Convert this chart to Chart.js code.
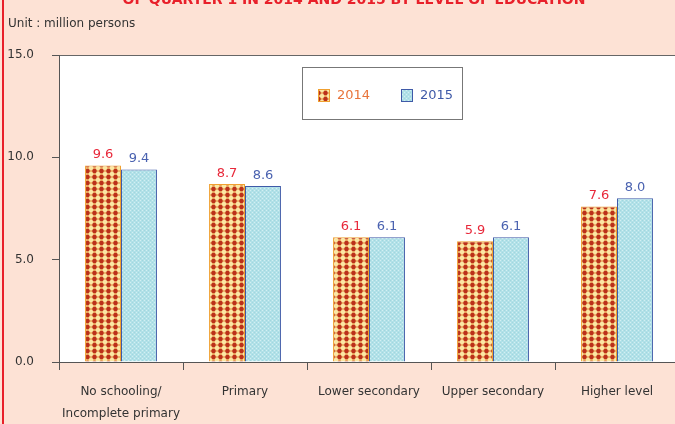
<!DOCTYPE html>
<html>
<head>
<meta charset="utf-8">
<script src="https://cdn.jsdelivr.net/npm/chart.js@4"></script>
<style>
  html, body { margin: 0; padding: 0; overflow: hidden; background: #fde2d5; }
  #wrap { position: relative; width: 680px; height: 424px; }
</style>
</head>
<body>
<div id="wrap"><canvas id="chart"></canvas></div>
<script>
const categories = [['No schooling/', 'Incomplete primary'], 'Primary', 'Lower secondary', 'Upper secondary', 'Higher level'];
const values2014 = [9.6, 8.7, 6.1, 5.9, 7.6];
const values2015 = [9.4, 8.6, 6.1, 6.1, 8.0];
const seriesNames = ['2014', '2015'];
const yMin = 0, yMax = 15, yStep = 5;

const FONT = "'DejaVu Sans', Verdana, sans-serif";

// dotted yellow/red pattern for 2014
function makeDots() {
  const c = document.createElement('canvas');
  c.width = 7; c.height = 6;
  const g = c.getContext('2d');
  g.fillStyle = '#fbe7a4';
  g.fillRect(0, 0, 7, 6);
  g.fillStyle = '#eeb46c';
  g.fillRect(0, 2, 7, 2);
  g.fillRect(2, 0, 3, 6);
  g.fillStyle = '#bb301a';
  g.beginPath();
  g.arc(3.5, 3, 2.3, 0, Math.PI * 2);
  g.fill();
  return g.createPattern(c, 'repeat');
}

// light cyan speckle for 2015
function makeSpeckle() {
  const c = document.createElement('canvas');
  c.width = 4; c.height = 4;
  const g = c.getContext('2d');
  g.fillStyle = '#b1e1e8';
  g.fillRect(0, 0, 4, 4);
  g.fillStyle = '#d3eff2';
  g.fillRect(0, 0, 1, 1);
  g.fillRect(2, 2, 1, 1);
  g.fillStyle = '#a2d6de';
  g.fillRect(2, 0, 1, 1);
  g.fillRect(0, 2, 1, 1);
  return g.createPattern(c, 'repeat');
}

const fill2014 = makeDots();
const fill2015 = makeSpeckle();
const labelColors = ['#e8283a', '#4a62b0'];
const legendColors = ['#e8743a', '#3f5aa8'];

const backdrop = {
  id: 'backdrop',
  beforeDraw(chart) {
    const ctx = chart.ctx;
    const a = chart.chartArea;
    ctx.save();
    ctx.fillStyle = '#fde2d5';
    ctx.fillRect(0, 0, chart.width, chart.height);
    // red frame line on the left
    ctx.fillStyle = '#e8202a';
    ctx.fillRect(2, 0, 2, chart.height);
    // title, clipped by the top edge
    ctx.fillStyle = '#e8202a';
    ctx.font = 'bold 14px ' + FONT;
    ctx.textAlign = 'center';
    ctx.textBaseline = 'alphabetic';
    ctx.fillText('OF QUARTER 1 IN 2014 AND 2015 BY LEVEL OF EDUCATION', 354, 4);
    ctx.fillStyle = '#333';
    ctx.font = '12px ' + FONT;
    ctx.textAlign = 'left';
    ctx.textBaseline = 'middle';
    ctx.fillText('Unit : million persons', 8, 24);
    ctx.fillStyle = '#ffffff';
    ctx.fillRect(a.left, a.top, a.right - a.left, a.bottom - a.top);
    ctx.strokeStyle = '#666';
    ctx.lineWidth = 1;
    ctx.beginPath();
    ctx.moveTo(a.left, a.top + 0.5);
    ctx.lineTo(a.right, a.top + 0.5);
    ctx.stroke();
    ctx.restore();
  }
};

const extras = {
  id: 'extras',
  afterDatasetsDraw(chart) {
    const ctx = chart.ctx;
    ctx.save();
    ctx.font = '13px ' + FONT;
    ctx.textAlign = 'center';
    ctx.textBaseline = 'bottom';
    chart.data.datasets.forEach((ds, i) => {
      const meta = chart.getDatasetMeta(i);
      ctx.fillStyle = labelColors[i];
      meta.data.forEach((bar, j) => {
        ctx.fillText(ds.data[j].toFixed(1), bar.x, bar.y - 4);
      });
    });
    // legend box
    const a = chart.chartArea;
    const lx = a.left + 243, ly = a.top + 12;
    ctx.fillStyle = '#ffffff';
    ctx.fillRect(lx, ly, 161, 53);
    ctx.strokeStyle = '#777';
    ctx.lineWidth = 1;
    ctx.strokeRect(lx + 0.5, ly + 0.5, 160, 52);
    const items = [{ x: lx + 16 }, { x: lx + 99 }];
    ctx.font = '13px ' + FONT;
    ctx.textAlign = 'left';
    ctx.textBaseline = 'middle';
    chart.data.datasets.forEach((ds, i) => {
      const x = items[i].x, y = ly + 22;
      ctx.fillStyle = ds.backgroundColor;
      ctx.fillRect(x, y, 12, 13);
      ctx.strokeStyle = ds.borderColor;
      ctx.strokeRect(x + 0.5, y + 0.5, 11, 12);
      ctx.fillStyle = legendColors[i];
      ctx.fillText(ds.label, x + 19, y + 7);
    });
    ctx.restore();
  }
};

new Chart(document.getElementById('chart'), {
  type: 'bar',
  data: {
    labels: categories,
    datasets: [
      {
        label: seriesNames[0],
        data: values2014,
        backgroundColor: fill2014,
        borderColor: '#f0a030',
        borderWidth: 1
      },
      {
        label: seriesNames[1],
        data: values2015,
        backgroundColor: fill2015,
        borderColor: '#3f5aa8',
        borderWidth: 1
      }
    ]
  },
  options: {
    responsive: true,
    maintainAspectRatio: false,
    animation: false,
    devicePixelRatio: 1,
    categoryPercentage: 0.58,
    barPercentage: 1,
    layout: { padding: { top: 55, left: 0, right: 1, bottom: 0 } },
    plugins: {
      legend: { display: false },
      tooltip: { enabled: false }
    },
    scales: {
      x: {
        grid: { display: true, drawOnChartArea: false, tickLength: 8, color: '#555' },
        border: { display: true, color: '#555' },
        ticks: {
          color: '#333',
          font: { family: FONT, size: 12, lineHeight: 1.9 },
          padding: 10,
          maxRotation: 0,
          autoSkip: false
        },
        afterFit(scale) { scale.height = 62; }
      },
      y: {
        min: yMin,
        max: yMax,
        grid: { display: true, drawOnChartArea: false, tickLength: 7, color: '#555' },
        border: { display: true, color: '#555' },
        ticks: {
          stepSize: yStep,
          color: '#333',
          font: { family: FONT, size: 12 },
          padding: 18,
          callback: v => v.toFixed(1)
        },
        afterFit(scale) { scale.width = 59; }
      }
    }
  },
  plugins: [backdrop, extras]
});
</script>
</body>
</html>
